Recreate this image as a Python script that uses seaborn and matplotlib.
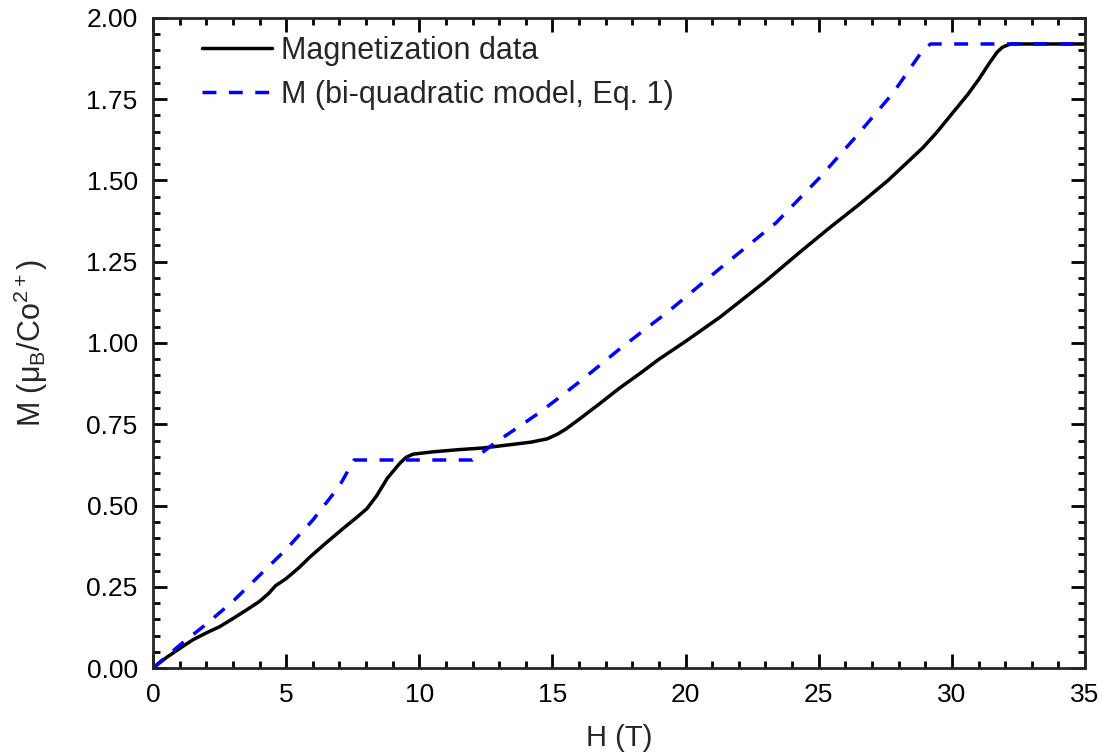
import pandas as pd
import matplotlib
matplotlib.use("Agg")
import matplotlib.pyplot as plt
from matplotlib.ticker import MultipleLocator, FormatStrFormatter
import seaborn as sns

# magnetization data
h_data = [0, 0.5, 1, 1.5, 2, 2.5, 3, 3.5, 4, 4.35, 4.6, 5, 5.5, 5.9, 6.5, 7.15, 7.6, 8.03,
          8.4, 8.8, 9.27, 9.5, 9.77, 10.5, 11.5, 12.4, 13.5, 14.2, 14.8, 15.2, 15.5, 16,
          16.8, 17.5, 18.3, 19, 20, 21.3, 22, 23, 24.3, 25.4, 26.5, 27.6, 28.9, 29.4,
          30.3, 30.6, 31.0, 31.4, 31.7, 31.9, 32.2, 33, 34, 35]
m_data = [0, 0.032, 0.06, 0.087, 0.108, 0.127, 0.152, 0.178, 0.205, 0.23, 0.253, 0.275,
          0.31, 0.342, 0.385, 0.43, 0.46, 0.49, 0.53, 0.584, 0.63, 0.648, 0.658, 0.665,
          0.672, 0.677, 0.688, 0.695, 0.705, 0.72, 0.735, 0.765, 0.815, 0.86, 0.907, 0.95,
          1.005, 1.08, 1.125, 1.19, 1.28, 1.354, 1.425, 1.50, 1.60, 1.645, 1.735, 1.765,
          1.81, 1.86, 1.895, 1.91, 1.92, 1.92, 1.92, 1.92]

# bi-quadratic model
h_model = [0, 1, 2, 3, 4, 5, 6, 7, 7.55, 12.0, 12.8, 14.5, 15.3, 16.1, 17.5, 19.4,
           21.3, 23.4, 25.05, 26.4, 27.8, 28.9, 29.2, 35]
m_model = [0, 0.07, 0.135, 0.205, 0.285, 0.365, 0.455, 0.56, 0.64, 0.64, 0.69, 0.785,
           0.835, 0.886, 0.98, 1.10, 1.23, 1.37, 1.51, 1.635, 1.77, 1.90, 1.92, 1.92]

df_data = pd.DataFrame({"H": h_data, "M": m_data})
df_model = pd.DataFrame({"H": h_model, "M": m_model})

sns.set_style("ticks")
plt.rcParams["font.family"] = ["Liberation Sans", "DejaVu Sans"]
plt.rcParams["mathtext.fontset"] = "custom"
plt.rcParams["mathtext.rm"] = "Liberation Sans"
plt.rcParams["mathtext.it"] = "Liberation Sans:italic"

fig = plt.figure(figsize=(11.03, 7.55), dpi=100)
ax = fig.add_axes([0.1387, 0.1152, 0.845, 0.8610])

sns.lineplot(data=df_data, x="H", y="M", ax=ax, color="black", lw=2.5,
             label="Magnetization data", sort=False)
sns.lineplot(data=df_model, x="H", y="M", ax=ax, color="#0000ff", lw=2.5,
             label="M (bi-quadratic model, Eq. 1)", sort=False)
ax.lines[1].set_dashes((4.0, 3.6))

ax.set_xlim(0, 35)
ax.set_ylim(0, 2.0)
ax.xaxis.set_major_locator(MultipleLocator(5))
ax.xaxis.set_minor_locator(MultipleLocator(1))
ax.yaxis.set_major_locator(MultipleLocator(0.25))
ax.yaxis.set_minor_locator(MultipleLocator(0.05))
ax.yaxis.set_major_formatter(FormatStrFormatter("%.2f"))

for s in ax.spines.values():
    s.set_linewidth(2)
    s.set_visible(True)
ax.tick_params(which="both", direction="in", top=True, right=True, width=2,
               labelsize=19, colors="black", pad=11)
ax.tick_params(which="major", length=10)
ax.tick_params(which="minor", length=5)

ax.set_xlabel("H (T)", fontsize=21, labelpad=12)
ax.set_ylabel("M (μ$_\\mathrm{B}$/Co$^{2+}$)", fontsize=22, labelpad=26)

ax.legend(loc="upper left", frameon=False, fontsize=22, handlelength=2.3,
          handletextpad=0.3, borderpad=0, borderaxespad=0,
          bbox_to_anchor=(0.0526, 0.972), labelspacing=0.45)

fig.savefig("out.png", dpi=100)
